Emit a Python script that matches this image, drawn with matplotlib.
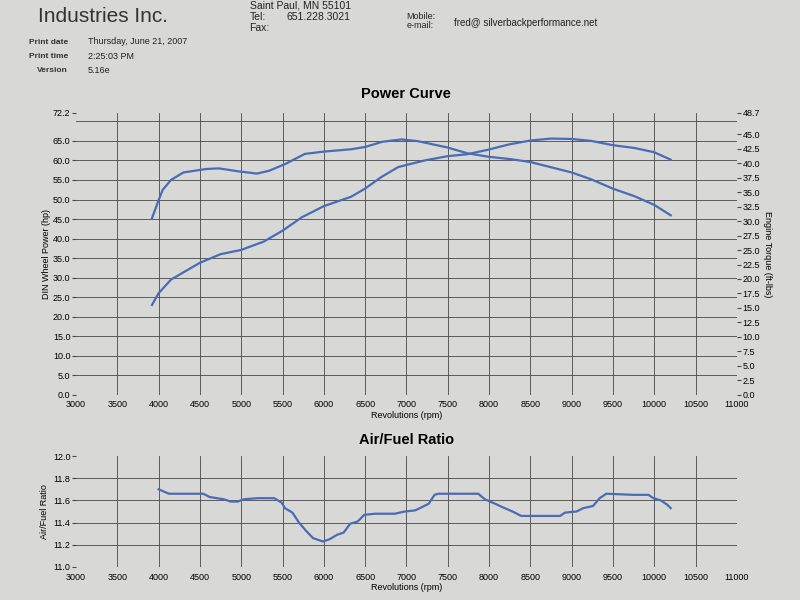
import numpy as np
import matplotlib
matplotlib.use("Agg")
import matplotlib.pyplot as plt

plt.rcParams['font.family'] = ['Liberation Sans', 'DejaVu Sans']

# power curve (hp) vs rpm
power_rpm = [3920, 4000, 4150, 4500, 4750, 5000, 5270, 5500, 5730, 6000, 6330, 6500,
             6700, 6900, 7220, 7500, 7740, 8000, 8240, 8500, 8750, 9000, 9240, 9500,
             9760, 10000, 10200]
power_hp = [23.0, 26.0, 29.5, 33.8, 36.0, 37.1, 39.2, 42.0, 45.4, 48.3, 50.7, 52.8,
            55.8, 58.3, 60.0, 61.1, 61.6, 62.8, 64.1, 65.1, 65.6, 65.5, 65.0, 63.9,
            63.2, 62.1, 60.2]

# engine torque (ft-lbs) vs rpm
torque_rpm = [3920, 4000, 4050, 4150, 4300, 4580, 4730, 4960, 5190, 5340, 5540, 5770,
              6000, 6330, 6500, 6710, 6940, 7140, 7500, 7740, 8000, 8260, 8500, 8750,
              9000, 9240, 9500, 9760, 10000, 10200]
torque_ft = [30.5, 33.6, 35.4, 37.1, 38.4, 39.0, 39.1, 38.6, 38.2, 38.7, 39.9, 41.6,
             42.0, 42.4, 42.8, 43.7, 44.1, 43.8, 42.7, 41.7, 41.1, 40.7, 40.2, 39.3,
             38.4, 37.2, 35.6, 34.3, 32.8, 31.0]

# air/fuel ratio vs rpm
afr_rpm = [4000, 4125, 4370, 4540, 4620, 4790, 4870, 4960, 5030, 5200, 5400, 5490,
           5530, 5620, 5700, 5780, 5870, 5990, 6070, 6160, 6240, 6320, 6410, 6490,
           6620, 6860, 6980, 7105, 7190, 7270, 7340, 7385, 7700, 7870, 7950, 8075,
           8160, 8285, 8390, 8530, 8860, 8920, 9060, 9140, 9260, 9340, 9420, 9750,
           9930, 9990, 10080, 10160, 10200]
afr = [11.70, 11.66, 11.66, 11.66, 11.63, 11.61, 11.59, 11.59, 11.61, 11.62, 11.62, 11.58,
       11.53, 11.49, 11.40, 11.33, 11.26, 11.23, 11.25, 11.29, 11.31, 11.39, 11.41, 11.47,
       11.48, 11.48, 11.50, 11.51, 11.54, 11.57, 11.65, 11.66, 11.66, 11.66, 11.61, 11.57,
       11.54, 11.50, 11.46, 11.46, 11.46, 11.49, 11.50, 11.53, 11.55, 11.62, 11.66, 11.65,
       11.65, 11.62, 11.60, 11.56, 11.53]

rpm_ticks = list(range(3000, 11001, 500))
rpm_grid = list(range(3500, 10501, 500))
hp_ticks = [0, 5, 10, 15, 20, 25, 30, 35, 40, 45, 50, 55, 60, 65, 72.2]
hp_grid = list(range(5, 71, 5))
tq_ticks = [i * 2.5 for i in range(19)] + [48.7]
afr_ticks = [11.0, 11.2, 11.4, 11.6, 11.8, 12.0]
afr_grid = [11.2, 11.4, 11.6, 11.8]

blue = '#4a6cb4'
gridc = '#484848'
bg = '#d8d8d6'

fig = plt.figure(figsize=(8, 6), dpi=100, facecolor=bg)

# header text
fig.text(0.048, 0.972, 'Industries Inc.', fontsize=15, va='center',
         family=['Liberation Sans Narrow', 'Liberation Sans'], color='#333')
fig.text(0.312, 0.991, 'Saint Paul, MN 55101', fontsize=7.5, va='center', color='#222')
fig.text(0.312, 0.972, 'Tel:', fontsize=7.5, va='center', color='#222')
fig.text(0.358, 0.972, '651.228.3021', fontsize=7.5, va='center', color='#222')
fig.text(0.312, 0.953, 'Fax:', fontsize=7.5, va='center', color='#222')
fig.text(0.508, 0.973, 'Mobile:', fontsize=6.5, va='center', color='#222')
fig.text(0.508, 0.958, 'e-mail:', fontsize=6.5, va='center', color='#222')
fig.text(0.568, 0.962, 'fred@ silverbackperformance.net', fontsize=7, va='center', color='#222')
for i, (k, v) in enumerate([('Print date', 'Thursday, June 21, 2007'),
                            ('Print time', '2:25:03 PM'),
                            ('Version', '5.16e')]):
    y = 0.930 - i * 0.024
    fig.text(0.085, y, k, fontsize=6, fontweight='bold', ha='right', va='center', color='#333')
    fig.text(0.110, y, v, fontsize=6.5, va='center', color='#222')

# power curve panel
ax = fig.add_axes([0.095, 0.342, 0.826, 0.47])
ax.set_facecolor('none')
for v in rpm_grid:
    ax.axvline(v, color=gridc, lw=0.6, zorder=1)
for h in hp_grid:
    ax.axhline(h, color=gridc, lw=0.6, zorder=1)
ax.plot(power_rpm, power_hp, color=blue, lw=1.6, zorder=3)
ax.set_xlim(3000, 11000)
ax.set_ylim(0, 72.2)
ax.set_xticks(rpm_ticks)
ax.set_xticklabels([str(t) for t in rpm_ticks], fontsize=6.5)
ax.set_yticks(hp_ticks)
ax.set_yticklabels(['%.1f' % t for t in hp_ticks], fontsize=6.5)
ax.tick_params(axis='x', length=0, pad=4)
ax.tick_params(axis='y', length=3, pad=1, color=gridc)
ax.set_xlabel('Revolutions (rpm)', fontsize=6.5, labelpad=1)
ax.set_ylabel('DIN Wheel Power (hp)', fontsize=6.5, labelpad=1)
ax.set_title('Power Curve', fontsize=10.5, fontweight='bold', pad=11)
for s in ax.spines.values():
    s.set_visible(False)

ax2 = ax.twinx()
ax2.plot(torque_rpm, torque_ft, color=blue, lw=1.6, zorder=3)
ax2.set_ylim(0, 48.7)
ax2.set_yticks(tq_ticks)
ax2.set_yticklabels(['%.1f' % t for t in tq_ticks], fontsize=6.5)
ax2.tick_params(axis='y', length=3, pad=1, color=gridc)
ax2.set_ylabel('Engine Torque (ft-lbs)', fontsize=6.5, rotation=-90, labelpad=9)
for s in ax2.spines.values():
    s.set_visible(False)

# air/fuel panel
ax3 = fig.add_axes([0.095, 0.055, 0.826, 0.185])
ax3.set_facecolor('none')
for v in rpm_grid:
    ax3.axvline(v, color=gridc, lw=0.6, zorder=1)
for h in afr_grid:
    ax3.axhline(h, color=gridc, lw=0.6, zorder=1)
ax3.plot(afr_rpm, afr, color=blue, lw=1.6, zorder=3)
ax3.set_xlim(3000, 11000)
ax3.set_ylim(11.0, 12.0)
ax3.set_xticks(rpm_ticks)
ax3.set_xticklabels([str(t) for t in rpm_ticks], fontsize=6.5)
ax3.set_yticks(afr_ticks)
ax3.set_yticklabels(['%.1f' % t for t in afr_ticks], fontsize=6.5)
ax3.tick_params(axis='x', length=0, pad=4)
ax3.tick_params(axis='y', length=3, pad=1, color=gridc)
ax3.set_xlabel('Revolutions (rpm)', fontsize=6.5, labelpad=1)
ax3.set_ylabel('Air/Fuel Ratio', fontsize=6.5, labelpad=3)
ax3.set_title('Air/Fuel Ratio', fontsize=10.5, fontweight='bold', pad=9)
for s in ax3.spines.values():
    s.set_visible(False)

fig.savefig('out.png', dpi=100, facecolor=bg)
